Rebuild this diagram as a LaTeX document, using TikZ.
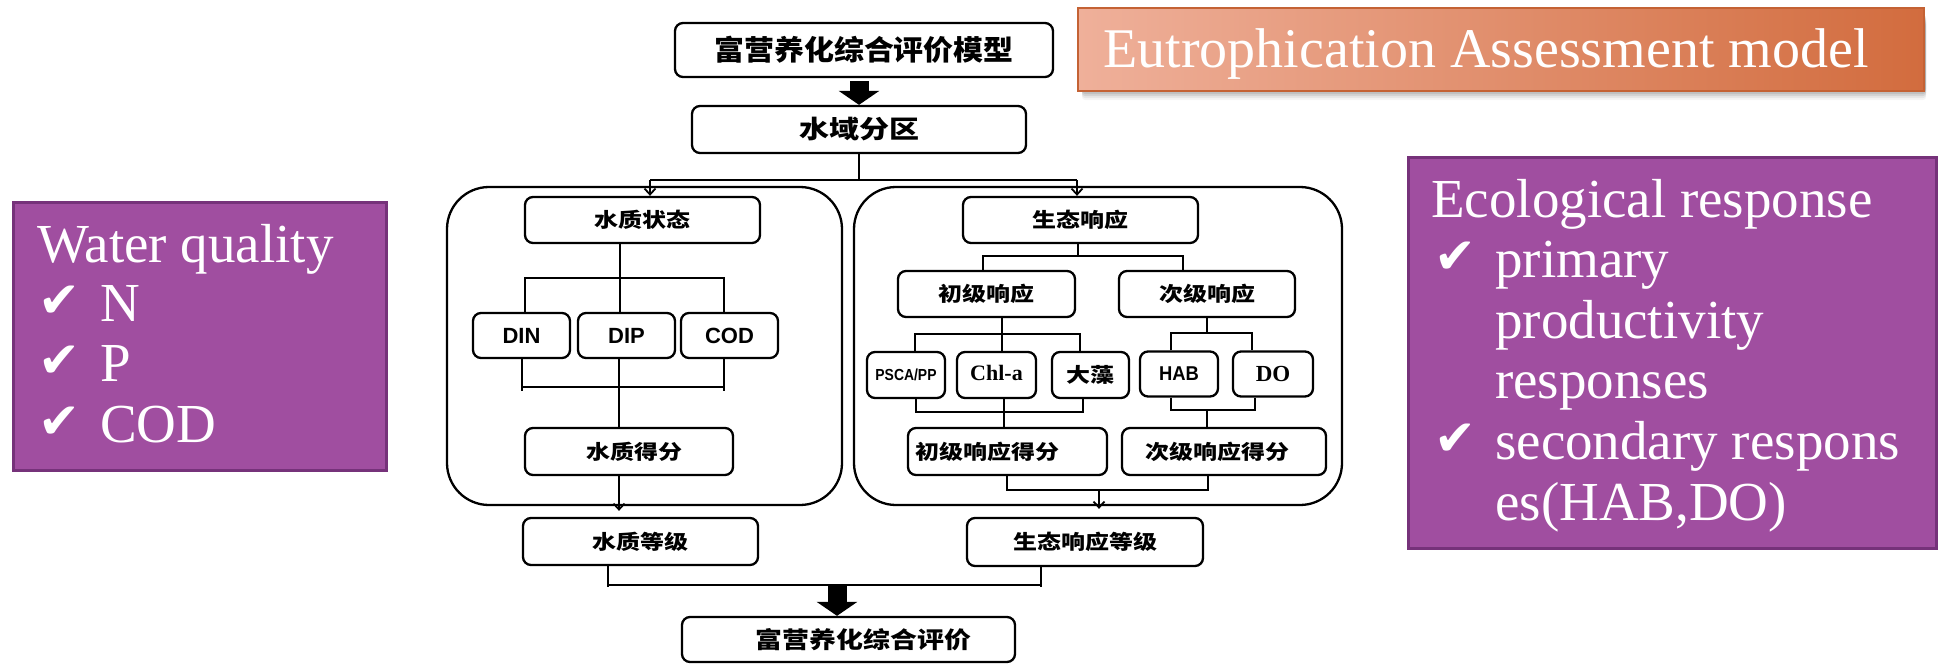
\documentclass[tikz,border=0pt]{standalone}
\usepackage{fontspec}
\usepackage{graphicx}
\setmainfont{Liberation Serif}
\newfontfamily\cjk{Noto Sans CJK SC}
\newfontfamily\lsans{Liberation Sans}
\newfontfamily\lserif{Liberation Serif}
\newfontfamily\symf{DejaVu Sans}
\usetikzlibrary{arrows.meta,calc}
\definecolor{purp}{RGB}{160,78,160}
\definecolor{purpb}{RGB}{118,50,122}
\definecolor{orL}{RGB}{239,176,154}
\definecolor{orR}{RGB}{210,108,62}
\definecolor{orB}{RGB}{196,98,52}
\newcommand{\cn}[3]{{\fontsize{#1}{#1}\selectfont\scalebox{#2}[1]{\cjk\bfseries #3}}}
\newcommand{\lat}[3]{{\fontsize{#1}{#1}\selectfont\scalebox{#2}[1]{\lsans\bfseries #3}}}
\newcommand{\ser}[2]{{\fontsize{#1}{#1}\selectfont\lserif\bfseries #2}}
\newcommand{\chk}{\raisebox{4pt}{\symf\fontsize{50}{50}\selectfont ✔}}
\begin{document}
\begin{tikzpicture}[x=1pt,y=-1pt,
  box/.style={draw, line width=2.3pt, rounded corners=8pt, fill=white, inner sep=0pt},
  panel/.style={draw, line width=2.3pt, rounded corners=42pt, inner sep=0pt},
  conn/.style={draw, line width=2pt},
  arr/.style={-{Straight Barb[length=6pt,width=11pt,line width=1.8pt]}},
  fat/.style={draw, line width=19pt, -{Triangle[length=14pt,width=40pt]}},
  pbox/.style={fill=purp, draw=purpb, line width=3pt, inner sep=0pt},
  wt/.style={text=white, anchor=base west, inner sep=0pt, font=\fontsize{55}{55}\selectfont},
]
\useasboundingbox (0,0) rectangle (1941,664);

% ---------- purple side boxes ----------
\node[pbox, minimum width=373, minimum height=268] (wqbox) at (199.5,336) {};
\node[wt] (wq0) at (37,262) {Water quality};
\node[wt] (wq1) at (38,321) {\makebox[62pt][l]{\chk}N};
\node[wt] (wq2) at (38,381) {\makebox[62pt][l]{\chk}P};
\node[wt] (wq3) at (38,442) {\makebox[62pt][l]{\chk}COD};

\node[pbox, minimum width=528, minimum height=391] (erbox) at (1672,352.5) {};
\node[wt] (er0) at (1431,217) {Ecological response};
\node[wt] (er1) at (1434,277) {\makebox[61pt][l]{\chk}primary};
\node[wt] (er2) at (1495,338) {productivity};
\node[wt] (er3) at (1495,398) {responses};
\node[wt] (er4) at (1434,459) {\makebox[61pt][l]{\chk}secondary respons};
\node[wt] (er5) at (1495,520) {es(HAB,DO)};

% ---------- title box ----------
\foreach \o/\op in {1/0.10,3/0.09,5/0.08,7/0.06,9/0.04}
  \fill[black,opacity=\op,rounded corners=3pt] (1082,14+\o) rectangle (1926,91+\o);
\node[draw=orB, line width=2pt, left color=orL, right color=orR, inner sep=0pt,
      minimum width=846, minimum height=83, text height=45pt, text depth=10pt, text=white]
  (eut) at (1501,49.5) {\fontsize{56}{56}\selectfont Eutrophication Assessment model\hspace*{30pt}};

% ---------- panels ----------
\node[panel, minimum width=395, minimum height=318] (wqp) at (644.5,346) {};
\node[panel, minimum width=488, minimum height=318] (ecp) at (1098,346) {};

% ---------- boxes ----------
\node[box, minimum width=378, minimum height=54] (top) at (864,50) {\cn{28}{1.07}{富营养化综合评价模型}};
\node[box, minimum width=334, minimum height=47] (zone) at (859,129.5) {\cn{25}{1.2}{水域分区}};

\node[box, minimum width=235, minimum height=46] (wq) at (642.5,220) {\cn{20}{1.2}{水质状态}};
\node[box, minimum width=97, minimum height=45] (din) at (521.5,335.5) {\lat{22}{1}{DIN}};
\node[box, minimum width=97, minimum height=45] (dip) at (626.5,335.5) {\lat{22}{1}{DIP}};
\node[box, minimum width=97, minimum height=45] (cod) at (729.5,335.5) {\lat{22}{1}{COD}};
\node[box, minimum width=208, minimum height=47] (wqs) at (629,451.5) {\hspace*{10pt}\cn{20}{1.2}{水质得分}};
\node[box, minimum width=235, minimum height=47] (wqg) at (640.5,541.5) {\cn{20}{1.2}{水质等级}};

\node[box, minimum width=235, minimum height=46] (eco) at (1080.5,220) {\cn{20}{1.2}{生态响应}};
\node[box, minimum width=177, minimum height=46] (pri) at (986.5,294) {\cn{20}{1.2}{初级响应}};
\node[box, minimum width=176, minimum height=46] (sec) at (1207,294) {\cn{20}{1.2}{次级响应}};
\node[box, minimum width=78, minimum height=46] (psca) at (906,375) {\lat{16}{0.87}{PSCA/PP}};
\node[box, minimum width=79, minimum height=46] (chla) at (996.5,375) {\raisebox{4pt}{\ser{22}{Chl-a}}};
\node[box, minimum width=77, minimum height=46] (alg) at (1090.5,375) {\cn{20}{1.2}{大藻}};
\node[box, minimum width=78, minimum height=45] (hab) at (1179,374) {\lat{20}{0.92}{HAB}};
\node[box, minimum width=80, minimum height=45] (do) at (1273,374) {\ser{23}{DO}};
\node[box, minimum width=199, minimum height=47] (pris) at (1007.5,451.5) {\hspace*{-41pt}\cn{20}{1.2}{初级响应得分}};
\node[box, minimum width=204, minimum height=47] (secs) at (1224,451.5) {\hspace*{-14pt}\cn{20}{1.2}{次级响应得分}};
\node[box, minimum width=236, minimum height=48] (ecog) at (1085,542) {\cn{20}{1.2}{生态响应等级}};
\node[box, minimum width=333, minimum height=45] (final) at (848.5,639.5) {\hspace*{30pt}\cn{23}{1.17}{富营养化综合评价}};

% ---------- coordinates ----------
\coordinate (j1) at (859,180);
\coordinate (aL) at (650,180);
\coordinate (aR) at (1077,180);
\coordinate (wv1) at (620,278);
\coordinate (bL1) at (525,278);
\coordinate (bR1) at (724,278);
\coordinate (bL2) at (522,387);
\coordinate (bR2) at (724,387);
\coordinate (wv2) at (619,387);
\coordinate (e1) at (1078,256);
\coordinate (e1L) at (983,256);
\coordinate (e1R) at (1183,256);
\coordinate (p1) at (1002,334);
\coordinate (p1L) at (915,334);
\coordinate (p1R) at (1080,334);
\coordinate (p2) at (1004,412);
\coordinate (p2L) at (916,412);
\coordinate (p2R) at (1083,412);
\coordinate (s1) at (1207,333);
\coordinate (s1L) at (1171,333);
\coordinate (s1R) at (1252,333);
\coordinate (s2) at (1207,410);
\coordinate (s2L) at (1171,410);
\coordinate (s2R) at (1255,410);
\coordinate (c1) at (1099,490);
\coordinate (c1L) at (1007,490);
\coordinate (c1R) at (1208,490);
\coordinate (bl) at (608,585);
\coordinate (br) at (1041,585);
\coordinate (fa) at (837,585);

% ---------- connectors ----------
\draw[fat, shorten <=3pt] (top.south -| zone.north) -- (zone.north);
\draw[conn] (zone.south -| j1) -- (j1);
\draw[conn] (aL) -- (aR);
\draw[conn, arr] (aL) -- (aL |- wq.north);
\draw[conn, arr] (aR) -- (aR |- eco.north);

\draw[conn] (wq.south -| wv1) -- (dip.north -| wv1);
\draw[conn] (din.north -| bL1) -- (bL1) -- (bR1) -- (cod.north -| bR1);
\draw[conn] (din.south -| bL2) -- ($(bL2)+(0,4)$);
\draw[conn] (cod.south -| bR2) -- ($(bR2)+(0,4)$);
\draw[conn] (bL2) -- (bR2);
\draw[conn] (dip.south -| wv2) -- (wqs.north -| wv2);
\draw[conn, arr] (wqs.south -| wv2) -- ($(wqg.north -| wv2)+(0,-6)$);

\draw[conn] (eco.south -| e1) -- (e1);
\draw[conn] (pri.north -| e1L) -- (e1L) -- (e1R) -- (sec.north -| e1R);
\draw[conn] (pri.south -| p1) -- (chla.north -| p1);
\draw[conn] (psca.north -| p1L) -- (p1L) -- (p1R) -- (alg.north -| p1R);
\draw[conn] (psca.south -| p2L) -- (p2L) -- (p2R) -- (alg.south -| p2R);
\draw[conn] (chla.south -| p2) -- (pris.north -| p2);
\draw[conn] (sec.south -| s1) -- (s1);
\draw[conn] (hab.north -| s1L) -- (s1L) -- (s1R) -- (do.north -| s1R);
\draw[conn] (hab.south -| s2L) -- (s2L) -- (s2R) -- (do.south -| s2R);
\draw[conn] (s2) -- (secs.north -| s2);
\draw[conn] (pris.south -| c1L) -- (c1L) -- (c1R) -- (secs.south -| c1R);
\draw[conn, arr] (c1) -- ($(ecog.north -| c1)+(0,-8)$);

\draw[conn] (wqg.south -| bl) -- ($(bl)+(0,2)$);
\draw[conn] (ecog.south -| br) -- ($(br)+(0,2)$);
\draw[conn] (bl) -- (br);
\draw[fat] (fa) -- (fa |- final.north);
\end{tikzpicture}
\end{document}
